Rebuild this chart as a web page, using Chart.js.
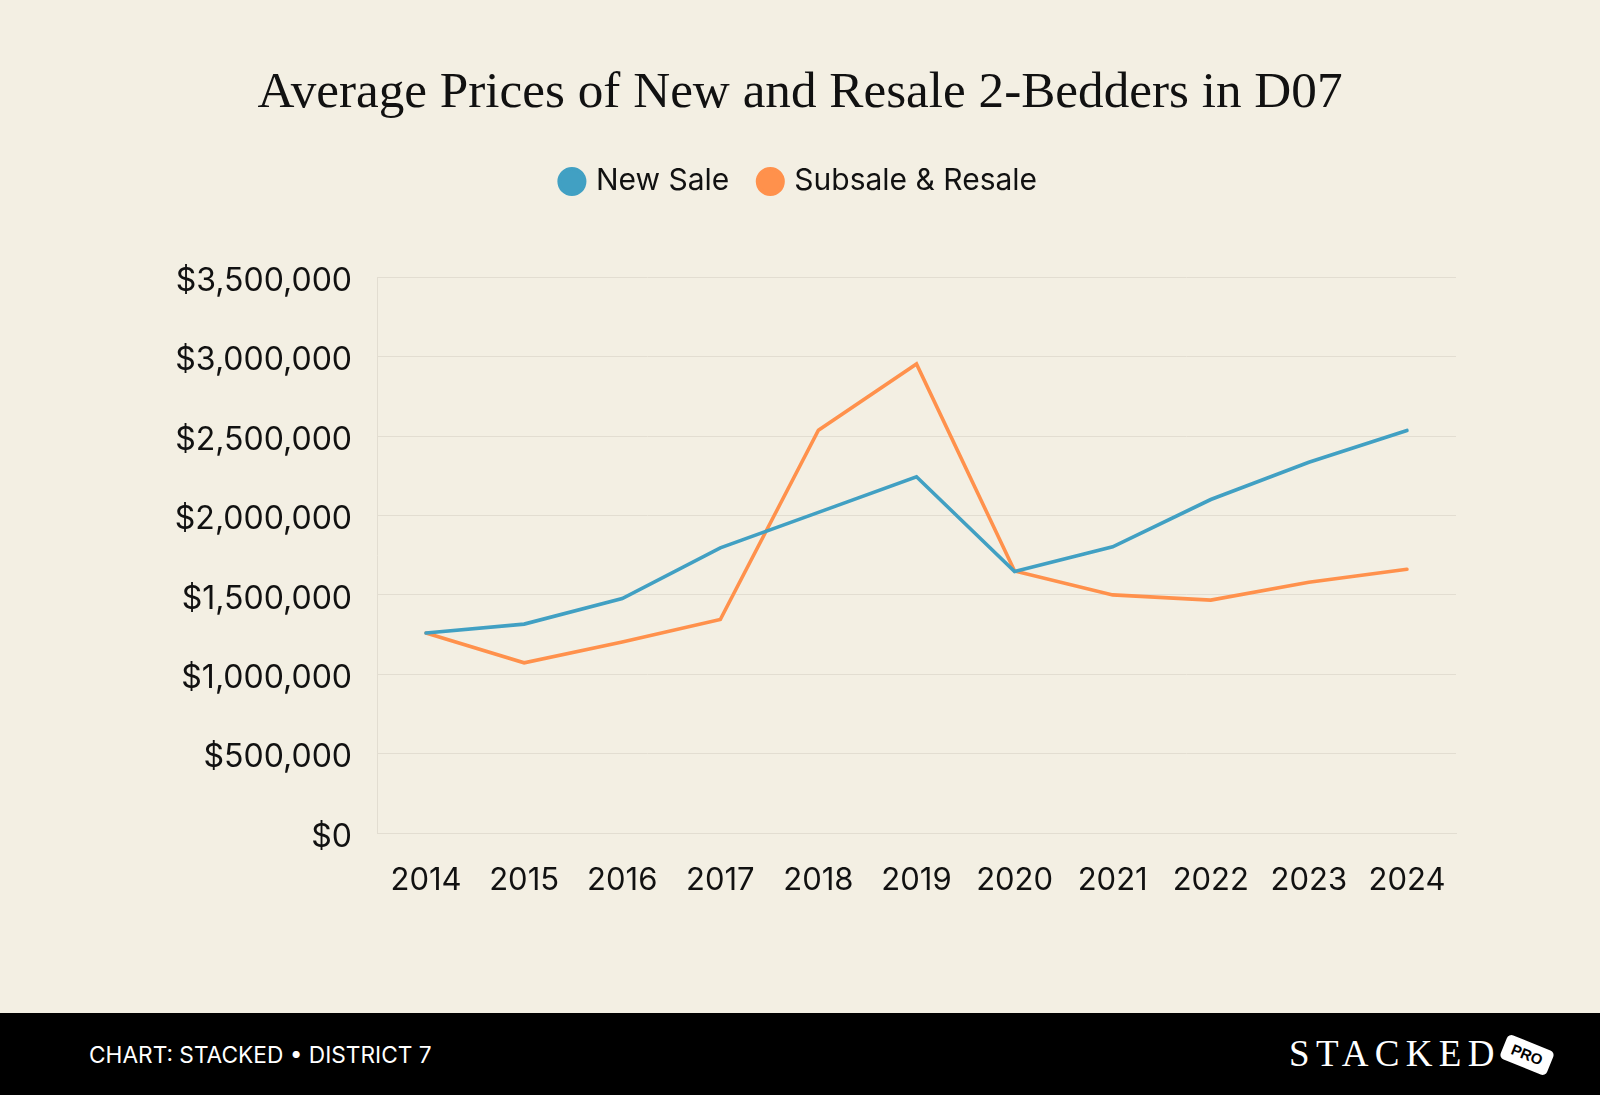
<!DOCTYPE html>
<html>
<head>
<meta charset="utf-8">
<script src="https://cdn.jsdelivr.net/npm/chart.js@4.4.1/dist/chart.umd.min.js"></script>
<style>
  html, body { margin: 0; padding: 0; }
  body { width: 1600px; height: 1095px; background: #F3EFE3; position: relative; overflow: hidden; }
  #wrap { position: absolute; left: 0; top: 0; width: 1600px; height: 1013px; }
  #footer { position: absolute; left: 0; top: 1013px; width: 1600px; height: 82px; background: #000; }
  #credit { position: absolute; left: 89px; top: 28px; color: #fff; font-family: Inter, sans-serif; font-size: 22.7px; line-height: 28px; }
  #logo { position: absolute; left: 1289px; top: 21px; color: #fff; font-family: "Liberation Serif", serif; font-size: 37px; line-height: 40px; letter-spacing: 6.3px; }
  #pro { position: absolute; left: 1502px; top: 29px; width: 50px; height: 26px; background: #fff; border-radius: 5px; transform: rotate(22deg); color: #000; font-family: "Liberation Sans", Arial, sans-serif; font-weight: bold; font-size: 15px; line-height: 26px; text-align: center; }
</style>
</head>
<body>
<div id="wrap"><canvas id="c" width="1600" height="1013"></canvas></div>
<div id="footer">
  <div id="credit">CHART: STACKED • DISTRICT 7</div>
  <div id="logo">STACKED</div>
  <div id="pro">PRO</div>
</div>
<script>
const years = ['2014','2015','2016','2017','2018','2019','2020','2021','2022','2023','2024'];
const newSale = [1260000, 1316000, 1477000, 1796000, 2020000, 2244000, 1647000, 1803000, 2101000, 2336000, 2536000];
const resale  = [1260000, 1072000, 1204000, 1345000, 2538000, 2955000, 1651000, 1500000, 1467000, 1580000, 1662000];
const seriesNames = ['New Sale', 'Subsale & Resale'];
const titleText = 'Average Prices of New and Resale 2-Bedders in D07';

const BLUE = '#41A0C3';
const ORANGE = '#FF914C';
const GRID = '#E2DDD1';
const INK = '#111111';

const legendSpacer = {
  id: 'legendSpacer',
  beforeLayout(chart) {
    const lg = chart.legend;
    if (lg && !lg._patched) {
      const orig = lg.fit;
      lg.fit = function () { orig.call(this); this.height += 71; };
      lg._patched = true;
    }
  }
};

new Chart(document.getElementById('c'), {
  type: 'line',
  data: {
    labels: years,
    datasets: [
      { label: seriesNames[0], data: newSale, borderColor: BLUE, backgroundColor: BLUE,
        borderWidth: 3.6, pointRadius: 0, pointHoverRadius: 0, tension: 0, borderCapStyle: 'round' },
      { label: seriesNames[1], data: resale, borderColor: ORANGE, backgroundColor: ORANGE,
        borderWidth: 3.6, pointRadius: 0, pointHoverRadius: 0, tension: 0, borderCapStyle: 'round' }
    ]
  },
  plugins: [legendSpacer],
  options: {
    responsive: false,
    animation: false,
    devicePixelRatio: 1,
    layout: { padding: { left: 0, right: 0, top: 0, bottom: 0 } },
    plugins: {
      title: {
        display: true,
        text: titleText,
        color: INK,
        font: { family: '"Liberation Serif", serif', size: 51.2, weight: 'normal' },
        padding: { top: 63, bottom: 10 }
      },
      legend: {
        display: true,
        position: 'top',
        labels: {
          usePointStyle: true,
          pointStyle: 'circle',
          boxWidth: 18,
          boxHeight: 18,
          padding: 32,
          color: INK,
          font: { family: 'Inter, sans-serif', size: 30 }
        }
      },
      tooltip: { enabled: false }
    },
    scales: {
      x: {
        offset: true,
        grid: { display: false, drawTicks: false },
        border: { display: true, color: GRID, width: 1 },
        ticks: { color: INK, font: { family: 'Inter, sans-serif', size: 31 }, padding: 29, maxRotation: 0, autoSkip: false },
        afterFit(s) { s.height = 180; }
      },
      y: {
        min: 0,
        max: 3500000,
        grid: { color: GRID, lineWidth: 1, drawTicks: false },
        border: { display: true, color: GRID, width: 1 },
        ticks: {
          stepSize: 500000,
          color: INK,
          padding: 25,
          labelOffset: 4,
          font: { family: 'Inter, sans-serif', size: 32 },
          callback: (v) => '$' + Number(v).toLocaleString('en-US')
        },
        afterFit(s) { s.width = 377; }
      },
      yRightSpace: {
        position: 'right',
        display: true,
        grid: { display: false, drawTicks: false },
        border: { display: false },
        ticks: { display: false },
        afterFit(s) { s.width = 144; }
      }
    }
  }
});
</script>
</body>
</html>
